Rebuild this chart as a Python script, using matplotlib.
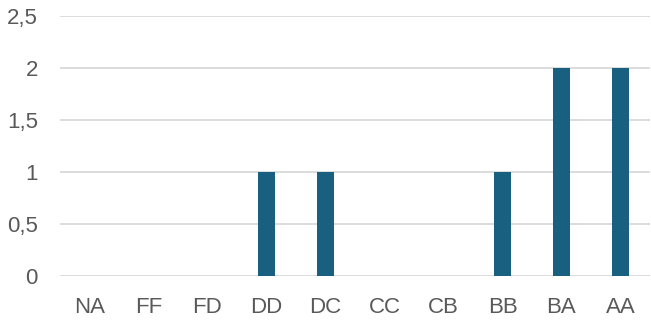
import matplotlib
matplotlib.use("Agg")
import matplotlib.pyplot as plt
from matplotlib.ticker import FuncFormatter

categories = ["NA", "FF", "FD", "DD", "DC", "CC", "CB", "BB", "BA", "AA"]
values = [0, 0, 0, 1, 1, 0, 0, 1, 2, 2]
y_ticks = [0, 0.5, 1, 1.5, 2, 2.5]

plt.rcParams['font.family'] = ['Liberation Sans', 'DejaVu Sans']

fig = plt.figure(figsize=(6.51, 3.2), dpi=100)
ax = fig.add_axes([60 / 651, 44 / 320, 590 / 651, 260 / 320])

x = list(range(len(categories)))
ax.bar(x, values, width=0.305, color="#185f80", zorder=3)

ax.set_xlim(-0.5, len(categories) - 0.5)
ax.set_ylim(0, 2.5)
ax.set_yticks(y_ticks)
ax.yaxis.set_major_formatter(FuncFormatter(lambda v, p: f"{v:g}".replace(".", ",")))
ax.set_xticks(x)
ax.set_xticklabels(categories)

ax.grid(axis="y", color="#d9d9d9", linewidth=1.3, zorder=0)
for s in ax.spines.values():
    s.set_visible(False)
ax.tick_params(axis="both", length=0, labelsize=16, colors="#595959")
ax.tick_params(axis="y", pad=16)
ax.tick_params(axis="x", pad=15)

fig.savefig("out.png", dpi=100)
